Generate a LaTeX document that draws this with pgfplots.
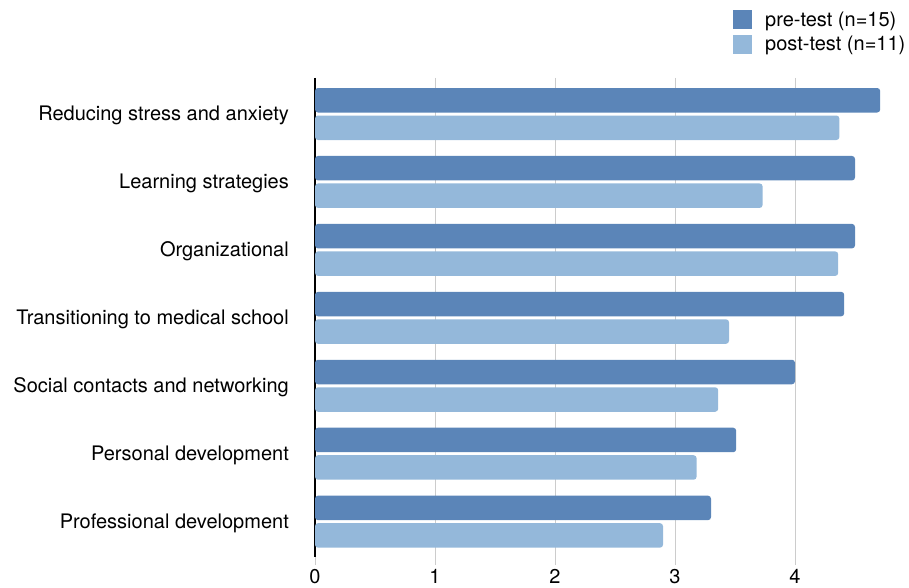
\documentclass[border=0pt]{standalone}
\usepackage{pgfplots}
\pgfplotsset{compat=1.18}
\usepackage{fontspec}
\setmainfont{TeX Gyre Heros}
\definecolor{pre}{RGB}{91,133,184}
\definecolor{post}{RGB}{148,184,218}
\definecolor{gridc}{RGB}{204,204,204}
\begin{document}
\begin{tikzpicture}
\begin{axis}[
  at={(315pt,31pt)}, anchor=south west,
  scale only axis, width=594pt, height=479pt,
  set layers,
  font=\fontsize{20}{24}\selectfont,
  /pgf/number format/assume math mode=true,
  xbar, bar width=24.5pt,
  xmin=0, xmax=4.95, ymin=-0.53, ymax=6.52, y dir=reverse,
  axis y line*=left, axis x line*=bottom,
  x axis line style={draw=none},
  y axis line style={line width=1.5pt, black, -, on layer=axis foreground},
  xtick={0,1,2,3,4},
  xmajorgrids, grid style={gridc, line width=1pt},
  xtick style={draw=gridc, line width=1pt},
  xtick align=outside, major tick length=8pt,
  xticklabel style={inner sep=0pt, yshift=-4pt},
  ytick={0,1,2,3,4,5,6},
  yticklabels={Reducing stress and anxiety, Learning strategies, Organizational, Transitioning to medical school, Social contacts and networking, Personal development, Professional development},
  ytick style={draw=none},
  yticklabel style={inner sep=0pt, xshift=-18pt, yshift=-1.5pt},
  legend image code/.code={\fill[#1, sharp corners] (0pt,-9.5pt) rectangle (19pt,9.5pt);},
  legend style={at={(0.7037,1.142)}, anchor=north west, draw=none, fill=none,
    inner sep=0pt, row sep=5.5pt, nodes={inner sep=0pt, anchor=west},
    /tikz/every odd column/.append style={column sep=13pt}},
  legend cell align=left,
]
\addplot[fill=pre, draw=none, bar shift=13.75pt, rounded corners=3pt] coordinates {
  (4.71,0) (4.50,1) (4.50,2) (4.41,3) (4.00,4) (3.51,5) (3.30,6)};
\addplot[fill=post, draw=none, bar shift=-13.75pt, rounded corners=3pt] coordinates {
  (4.37,0) (3.73,1) (4.36,2) (3.45,3) (3.36,4) (3.18,5) (2.90,6)};
\legend{pre-test (n=15), post-test (n=11)}
\end{axis}
\path (0,0) rectangle (909pt,588pt);
\end{tikzpicture}
\end{document}
